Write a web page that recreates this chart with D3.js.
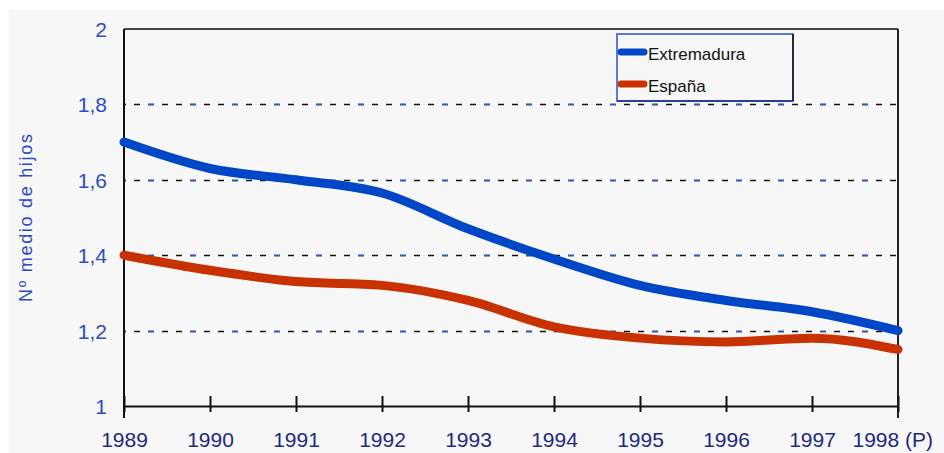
<!DOCTYPE html>
<html>
<head>
<meta charset="utf-8">
<script src="https://cdn.jsdelivr.net/npm/d3@7"></script>
<style>
  body { margin: 0; background: #fff; }
  svg { display: block; }
</style>
</head>
<body>
<svg id="chart" width="944" height="453"></svg>
<script>
var years = [1989, 1990, 1991, 1992, 1993, 1994, 1995, 1996, 1997, 1998];
var yearLabels = ["1989", "1990", "1991", "1992", "1993", "1994", "1995", "1996", "1997", "1998 (P)"];
var extremadura = [1.70, 1.63, 1.60, 1.565, 1.47, 1.39, 1.32, 1.28, 1.25, 1.20];
var espana = [1.40, 1.36, 1.33, 1.32, 1.28, 1.21, 1.18, 1.17, 1.18, 1.15];
var yTicks = [1, 1.2, 1.4, 1.6, 1.8, 2];
var gridTicks = [1.2, 1.4, 1.6, 1.8];
var seriesNames = ["Extremadura", "España"];
var seriesColors = ["#0047c8", "#c83200"];

var svg = d3.select("#chart");
var plot = {left: 124, right: 898, top: 29, bottom: 406};

svg.append("rect").attr("x", 9).attr("y", 10).attr("width", 935).attr("height", 443).attr("fill", "#f7f7f7");

var x = d3.scaleLinear().domain([1989, 1998]).range([plot.left, plot.right]);
var y = d3.scaleLinear().domain([1, 2]).range([plot.bottom, plot.top]);

// grid, dashed black with a few blue dashes
var grid = svg.append("g");
gridTicks.forEach(function(t) {
  var gy0 = Math.round(y(t)) + 0.5;
  grid.append("line").attr("x1", plot.left).attr("x2", plot.right).attr("y1", gy0).attr("y2", gy0)
    .attr("stroke", "#111").attr("stroke-width", 1.3).attr("stroke-dasharray", "6,8").attr("stroke-dashoffset", -10);
  grid.append("line").attr("x1", plot.left).attr("x2", plot.right).attr("y1", gy0).attr("y2", gy0)
    .attr("stroke", "#2a55d8").attr("stroke-width", 1.3).attr("stroke-dasharray", "6,36").attr("stroke-dashoffset", -24);
});

// frame top and right
svg.append("line").attr("x1", plot.left).attr("x2", plot.right).attr("y1", plot.top).attr("y2", plot.top).attr("stroke", "#444").attr("stroke-width", 2);
svg.append("line").attr("x1", plot.right).attr("x2", plot.right).attr("y1", plot.top).attr("y2", plot.bottom + 12).attr("stroke", "#222").attr("stroke-width", 2);

// y axis
var yAxis = d3.axisLeft(y).tickValues(yTicks).tickSize(0).tickPadding(17)
  .tickFormat(function(d) { return d3.format(".1f")(d).replace(".", ",").replace(",0", ""); });
var gy = svg.append("g").attr("transform", "translate(" + plot.left + ",0)").call(yAxis);
gy.select(".domain").attr("stroke", "#111").attr("stroke-width", 2).attr("d", "M0," + plot.top + "V" + (plot.bottom + 12));
gy.selectAll("text").attr("fill", "#2a4cc8").attr("font-family", "Liberation Sans, Arial, sans-serif").attr("font-size", 21).attr("dy", "0.36em");

// x axis
var xAxis = d3.axisBottom(x).tickValues(years).tickSize(0)
  .tickFormat(function(d, i) { return yearLabels[i]; });
var gx = svg.append("g").attr("transform", "translate(0," + plot.bottom + ")").call(xAxis);
gx.select(".domain").attr("stroke", "#111").attr("stroke-width", 2);
gx.selectAll(".tick line").attr("stroke", "#111").attr("stroke-width", 2).attr("y1", -10).attr("y2", 6);
gx.selectAll("text").attr("fill", "#1c2a80").attr("font-family", "Liberation Sans, Arial, sans-serif").attr("font-size", 21).attr("dy", "0").attr("y", 41)
  .attr("text-anchor", function(d, i) { return i === years.length - 1 ? "start" : "middle"; })
  .attr("dx", function(d, i) { return i === years.length - 1 ? -46 : 0; });

// y title
svg.append("text").attr("transform", "translate(32,218) rotate(-90)").attr("text-anchor", "middle")
  .attr("fill", "#2a4cc8").attr("font-family", "Liberation Sans, Arial, sans-serif").attr("font-size", 18)
  .attr("textLength", 168).attr("lengthAdjust", "spacing").text("Nº medio de hijos");

// lines
var line = d3.line().curve(d3.curveMonotoneX).x(function(d, i) { return x(years[i]); }).y(function(d) { return y(d); });
[extremadura, espana].forEach(function(vals, k) {
  svg.append("path").datum(vals).attr("d", line).attr("fill", "none")
    .attr("stroke", seriesColors[k]).attr("stroke-width", 9).attr("stroke-linecap", "round").attr("stroke-linejoin", "round");
});

// legend
var leg = svg.append("g").attr("transform", "translate(617,34)");
leg.append("rect").attr("width", 176).attr("height", 67).attr("fill", "#f7f7f7").attr("stroke", "#2a4fd0").attr("stroke-width", 1.5);
leg.append("line").attr("x1", 176).attr("x2", 176).attr("y1", 0).attr("y2", 67).attr("stroke", "#111").attr("stroke-width", 1.5);
leg.append("line").attr("x1", 0).attr("x2", 176).attr("y1", 67).attr("y2", 67).attr("stroke", "#1a2a90").attr("stroke-width", 1.5);
seriesNames.forEach(function(name, k) {
  var yy = 18 + k * 32;
  leg.append("line").attr("x1", 4).attr("x2", 27).attr("y1", yy).attr("y2", yy)
    .attr("stroke", seriesColors[k]).attr("stroke-width", 7).attr("stroke-linecap", "round");
  leg.append("text").attr("x", 31).attr("y", yy + 8).attr("fill", "#111")
    .attr("font-family", "Liberation Sans, Arial, sans-serif").attr("font-size", 17).text(name);
});
</script>
</body>
</html>
